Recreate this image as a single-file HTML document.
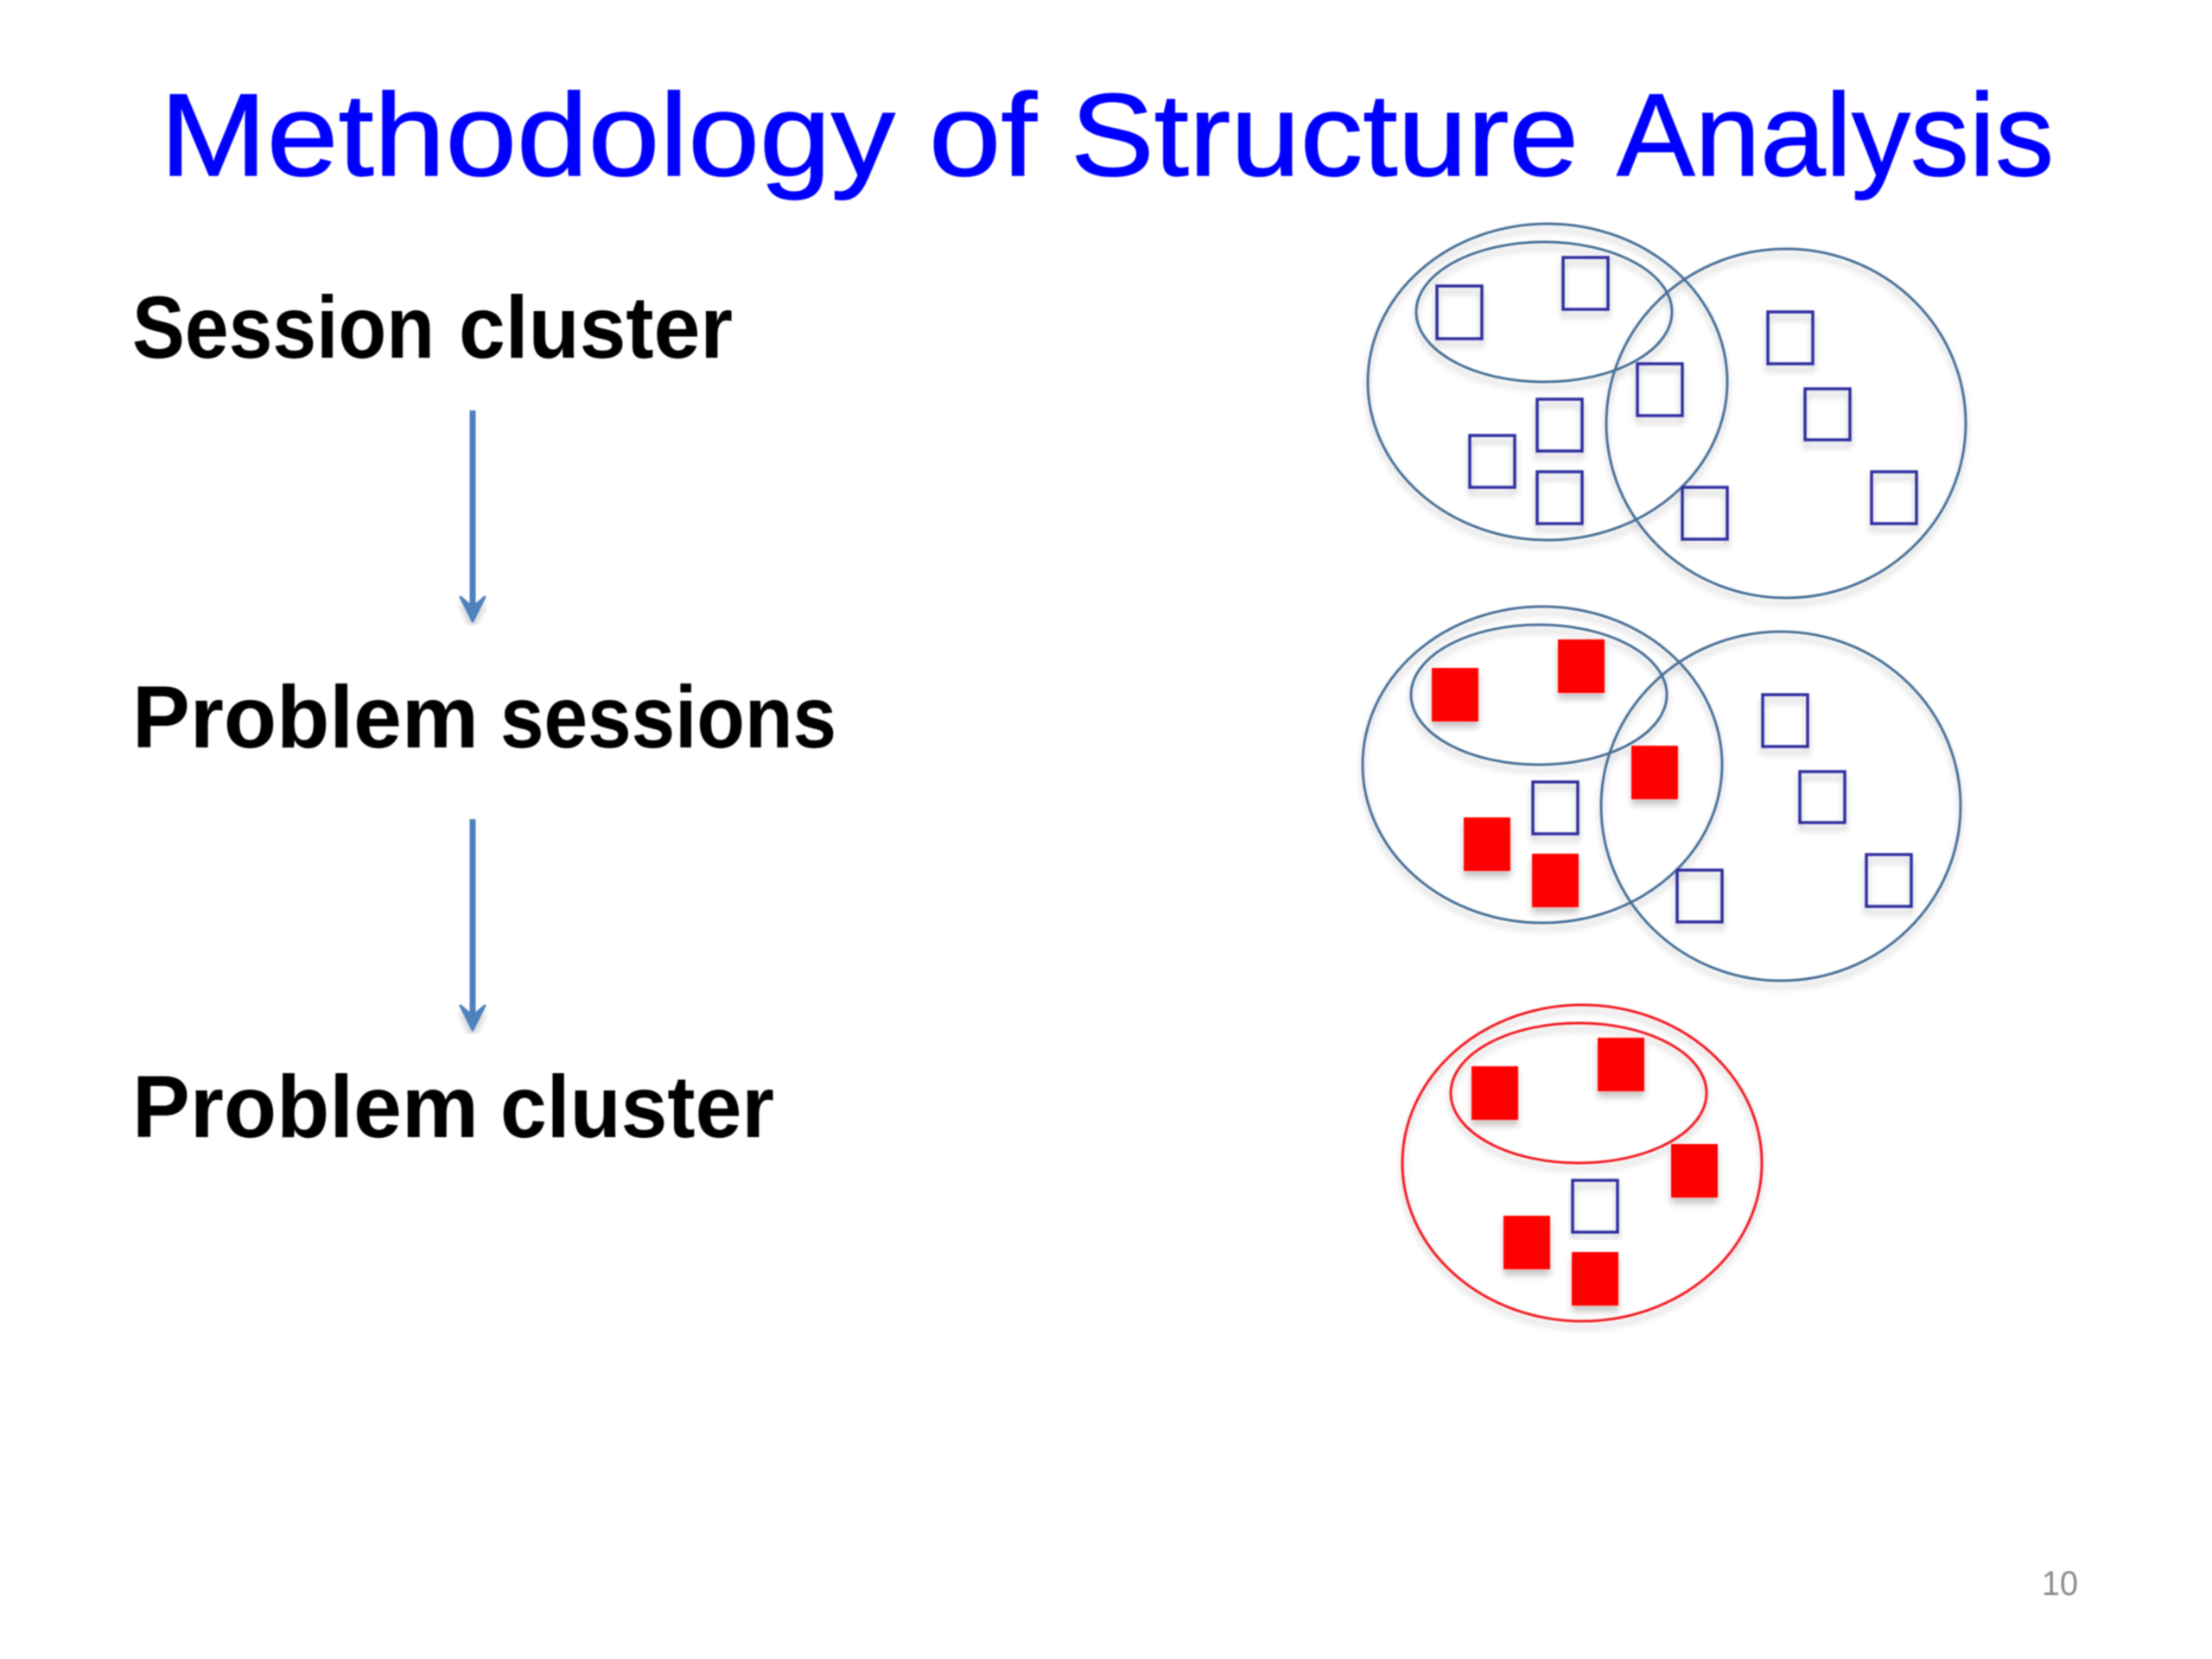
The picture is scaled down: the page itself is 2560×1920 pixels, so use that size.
<!DOCTYPE html>
<html><head><meta charset="utf-8"><style>
html,body{margin:0;padding:0;background:#fff;width:2560px;height:1920px;overflow:hidden}
svg{display:block}
</style></head><body>
<svg xmlns="http://www.w3.org/2000/svg" width="2560" height="1920" viewBox="0 0 2560 1920">
<defs>
<filter id="s" x="-10%" y="-10%" width="120%" height="125%"><feDropShadow dx="0" dy="7" stdDeviation="4" flood-color="#000" flood-opacity=".22"/></filter>
<filter id="b"><feGaussianBlur stdDeviation="0.9"/></filter>
</defs>
<rect width="2560" height="1920" fill="#fff"/>
<g filter="url(#b)">
<g font-family="'Liberation Sans',sans-serif">
<g font-size="136" fill="#0000ff" stroke="#0000ff" stroke-width="1.2">
<text x="185" y="203" textLength="851" lengthAdjust="spacingAndGlyphs">Methodology</text>
<text x="1075" y="203" textLength="125" lengthAdjust="spacingAndGlyphs">of</text>
<text x="1239" y="203" textLength="588" lengthAdjust="spacingAndGlyphs">Structure</text>
<text x="1871" y="203" textLength="506" lengthAdjust="spacingAndGlyphs">Analysis</text>
</g>
<g font-size="102" font-weight="bold" fill="#000">
<text x="153" y="414" textLength="350" lengthAdjust="spacingAndGlyphs">Session</text>
<text x="531" y="414" textLength="317" lengthAdjust="spacingAndGlyphs">cluster</text>
<text x="153" y="865" textLength="401" lengthAdjust="spacingAndGlyphs">Problem</text>
<text x="579" y="865" textLength="389" lengthAdjust="spacingAndGlyphs">sessions</text>
<text x="153" y="1316" textLength="401" lengthAdjust="spacingAndGlyphs">Problem</text>
<text x="579" y="1316" textLength="317" lengthAdjust="spacingAndGlyphs">cluster</text>
</g>
<text x="2363" y="1846" font-size="40" fill="#8b8b8b" textLength="42" lengthAdjust="spacingAndGlyphs">10</text>
</g>
<g fill="#4f81bd" stroke="#4f81bd">
<path d="M547 475V712" stroke-width="7" fill="none"/>
<path d="M547 719L533 691L547 703L561 691Z" stroke-width="3" stroke-linejoin="round" filter="url(#s)"/>
<path d="M547 948V1185" stroke-width="7" fill="none"/>
<path d="M547 1192L533 1164L547 1176L561 1164Z" stroke-width="3" stroke-linejoin="round" filter="url(#s)"/>
</g>
<!-- group 1 -->
<g fill="none" stroke="#4a7096" stroke-width="3" filter="url(#s)">
<ellipse cx="1791" cy="442" rx="208" ry="183"/>
<ellipse cx="1787" cy="361" rx="148" ry="81"/>
<ellipse cx="2067" cy="490" rx="208" ry="202"/>
</g>
<g fill="none" stroke="#2e2e9e" stroke-width="3.5" filter="url(#s)">
<rect x="1663" y="331" width="52" height="61"/>
<rect x="1809" y="298" width="52" height="60"/>
<rect x="1895" y="421" width="52" height="60"/>
<rect x="1779" y="462" width="52" height="60"/>
<rect x="1701" y="504" width="52" height="60"/>
<rect x="1779" y="546" width="52" height="60"/>
<rect x="1947" y="564" width="52" height="60"/>
<rect x="2046" y="361" width="52" height="60"/>
<rect x="2089" y="450" width="52" height="59"/>
<rect x="2166" y="546" width="52" height="60"/>
</g>
<!-- group 2 -->
<g transform="translate(-6,443)">
<g fill="none" stroke="#4a7096" stroke-width="3" filter="url(#s)">
<ellipse cx="1791" cy="442" rx="208" ry="183"/>
<ellipse cx="1787" cy="361" rx="148" ry="81"/>
<ellipse cx="2067" cy="490" rx="208" ry="202"/>
</g>
<g fill="#ff0000" filter="url(#s)">
<rect x="1663" y="330" width="54" height="62"/>
<rect x="1809" y="297" width="54" height="62"/>
<rect x="1894" y="420" width="54" height="62"/>
<rect x="1700" y="503" width="54" height="62"/>
<rect x="1779" y="545" width="54" height="62"/>
</g>
<g fill="none" stroke="#2e2e9e" stroke-width="3.5" filter="url(#s)">
<rect x="1780" y="462" width="52" height="60"/>
<rect x="1947" y="564" width="52" height="60"/>
<rect x="2046" y="361" width="52" height="60"/>
<rect x="2089" y="450" width="52" height="59"/>
<rect x="2166" y="546" width="52" height="60"/>
</g>
</g>
<!-- group 3 -->
<g transform="translate(40,904)">
<g fill="none" stroke="#f01c24" stroke-width="3" filter="url(#s)">
<ellipse cx="1791" cy="442" rx="208" ry="183"/>
<ellipse cx="1787" cy="361" rx="148" ry="81"/>
</g>
<g fill="#ff0000" filter="url(#s)">
<rect x="1663" y="330" width="54" height="62"/>
<rect x="1809" y="297" width="54" height="62"/>
<rect x="1894" y="420" width="54" height="62"/>
<rect x="1700" y="503" width="54" height="62"/>
<rect x="1779" y="545" width="54" height="62"/>
</g>
<g fill="none" stroke="#2e2e9e" stroke-width="3.5" filter="url(#s)">
<rect x="1780" y="462" width="52" height="60"/>
</g>
</g>
</g>
</svg>
</body></html>
